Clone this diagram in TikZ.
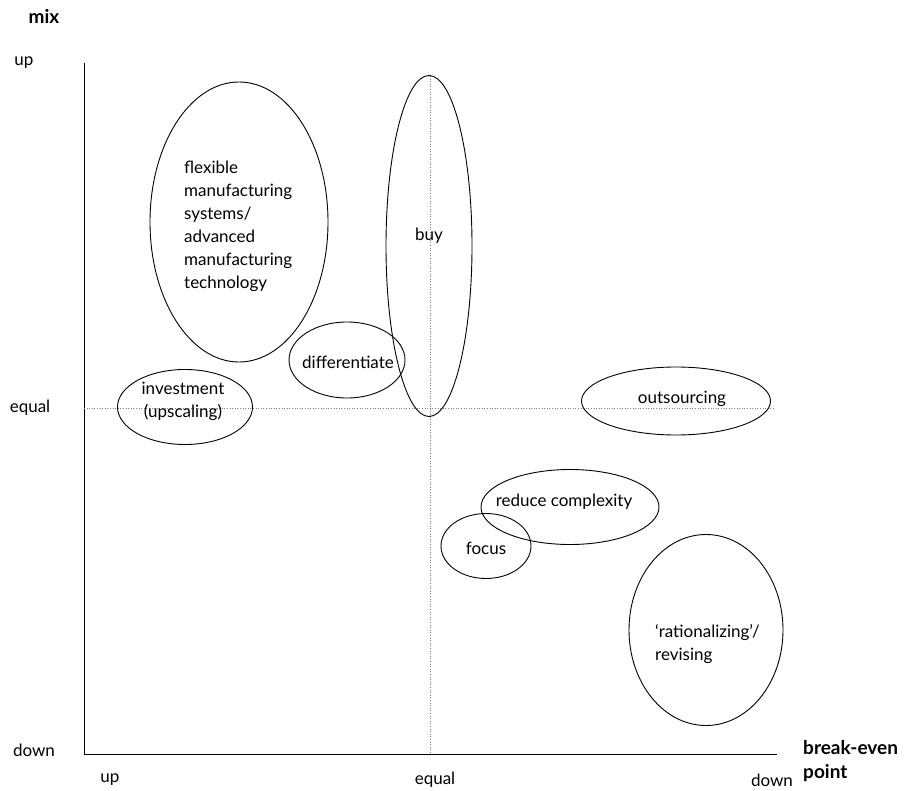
\documentclass[tikz,border=0pt]{standalone}
\usepackage{fontspec}
\setmainfont{Lato}
\usetikzlibrary{shapes.geometric}
\begin{document}
\begin{tikzpicture}[x=1pt,y=-1pt,
  lbl/.style={font=\fontsize{17}{23}\selectfont, inner sep=0pt},
  axlbl/.style={font=\fontsize{19}{24}\selectfont\bfseries, inner sep=0pt},
  zone/.style={ellipse, draw, line width=0.9pt, inner sep=0pt},
  guide/.style={dotted, gray, line width=0.6pt},
  axis/.style={line width=1pt}]
\useasboundingbox (0,0) rectangle (907,791);

% axes
\coordinate (o) at (84,754);
\coordinate (ytop) at (84,63);
\coordinate (xend) at (777,754);
\draw[axis] (ytop) -- (o) -- (xend);

% mid guides
\coordinate (hl) at (84,408);
\coordinate (hr) at (775,408);
\coordinate (vt) at (430,76);
\coordinate (vb) at (430,754);
\draw[guide] (hl) -- (hr);
\draw[guide] (vt) -- (vb);

% axis labels
\node[axlbl] (mix) at (44,16) {mix};
\node[lbl] (yup) at (24,63) {up};
\node[lbl] (yeq) at (30,408) {equal};
\node[lbl] (ydn) at (34,750) {down};
\node[lbl] (xup) at (110,780) {up};
\node[lbl] (xeq) at (435,780) {equal};
\node[lbl] (xdn) at (772,780) {down};
\node[axlbl, align=left, anchor=west] (bep) at (803,761) {break-even\\point};

% zones
\node[zone, minimum width=178pt, minimum height=280pt] (fms) at (239,222) {};
\node[zone, minimum width=86pt, minimum height=341pt] (buy) at (429,246) {};
\node[zone, minimum width=116pt, minimum height=76pt] (diff) at (347,360) {};
\node[zone, minimum width=135pt, minimum height=75pt] (inv) at (185,407) {};
\node[zone, minimum width=189pt, minimum height=68pt] (outs) at (676,401) {};
\node[zone, minimum width=178pt, minimum height=75pt] (red) at (570,507) {};
\node[zone, minimum width=90pt, minimum height=65pt] (foc) at (486,546) {};
\node[zone, minimum width=154pt, minimum height=191pt] (rat) at (706,630) {};

% zone texts
\node[lbl, align=left, anchor=north west] (tfms) at (184,161) {flexible\\manufacturing\\systems/\\advanced\\manufacturing\\technology};
\node[lbl] (tbuy) at (429,236) {buy};
\node[lbl] (tdiff) at (348,362) {differentiate};
\node[lbl, align=center] (tinv) at (183,401) {investment\\(upscaling)};
\node[lbl] (touts) at (682,399) {outsourcing};
\node[lbl] (tred) at (564,502) {reduce complexity};
\node[lbl] (tfoc) at (486,548) {focus};
\node[lbl, align=left, anchor=north west] (trat) at (655,624) {‘rationalizing’/\\revising};
\end{tikzpicture}
\end{document}
